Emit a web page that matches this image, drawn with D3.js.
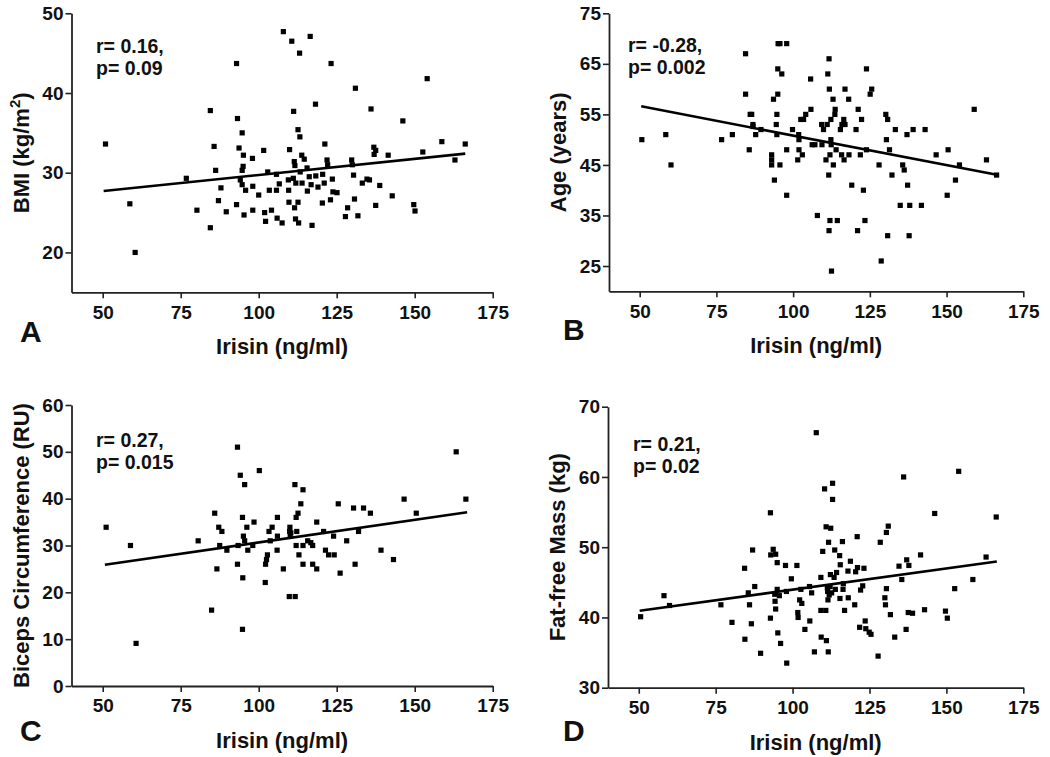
<!DOCTYPE html>
<html><head><meta charset="utf-8">
<script src="https://cdn.jsdelivr.net/npm/d3@7"></script>
<style>
body{margin:0;background:#fff;}
text{font-family:"Liberation Sans",Arial,sans-serif;font-weight:bold;fill:#111;}
</style></head>
<body><svg id="c" width="1050" height="757"></svg>
<script>
// ---------- data (Irisin ng/ml vs. outcome) ----------
const xTicks = [50, 75, 100, 125, 150, 175];
const xLabel = "Irisin (ng/ml)";

const bmiPoints = [[50.9,33.6],[58.7,26.1],[60.4,20.0],[76.8,29.3],[80.2,25.3],[84.5,37.8],[84.5,23.1],[85.7,33.3],[86.2,30.3],[87.1,26.5],[87.9,28.1],[89.6,25.1],[92.9,43.7],[93.2,36.8],[92.9,26.0],[93.7,33.1],[94.7,35.0],[95.1,32.2],[95.0,30.8],[94.7,30.3],[94.1,29.1],[94.7,28.5],[95.8,27.8],[95.3,24.7],[98.0,31.8],[98.1,28.3],[98.1,25.3],[100.0,27.2],[101.6,32.8],[101.9,25.0],[102.2,23.9],[102.9,30.1],[103.4,27.8],[104.1,25.3],[105.7,29.8],[105.7,27.8],[105.9,24.3],[106.6,28.6],[107.5,23.7],[107.9,47.7],[109.5,29.1],[109.6,27.8],[109.7,26.3],[109.9,32.9],[110.6,46.5],[111.2,37.7],[111.1,29.3],[111.4,31.4],[111.6,30.9],[111.5,25.6],[111.8,24.2],[111.9,28.7],[112.6,35.4],[112.6,26.3],[112.8,23.7],[113.1,45.0],[113.2,34.5],[113.3,30.1],[113.8,32.2],[113.9,28.7],[114.6,31.7],[115.5,30.6],[115.6,27.7],[116.5,47.1],[116.2,29.5],[116.8,28.5],[117.1,23.4],[118.2,38.6],[118.3,29.6],[119.0,28.2],[120.4,26.2],[120.5,29.8],[121.0,28.7],[121.2,33.6],[121.9,31.6],[122.1,31.0],[123.0,26.6],[123.2,43.7],[123.6,29.2],[123.8,27.6],[125.1,27.5],[127.8,24.5],[128.5,25.6],[129.8,31.6],[130.0,31.0],[130.4,29.7],[130.7,26.7],[131.0,40.6],[131.8,24.6],[133.2,28.7],[134.7,29.2],[135.5,29.1],[136.0,38.0],[136.9,33.2],[137.0,32.3],[137.5,32.8],[137.5,25.9],[138.8,28.4],[141.5,32.2],[142.8,27.1],[146.2,36.5],[149.7,26.0],[150.1,25.2],[152.6,32.6],[154.0,41.8],[158.7,33.9],[162.9,31.6],[166.2,33.6]];
const bmiFit = [[50.3,27.7],[166.2,32.4]];
const bmiTicks = [20, 30, 40, 50];

const agePoints = [[50.7,50],[58.5,51],[60.2,45],[76.7,50],[80.2,51],[84.5,67],[84.5,59],[85.7,48],[86.0,55],[86.5,55],[86.9,53],[86.9,52.6],[87.8,51],[89.5,52],[93.0,47],[93.0,46],[93.0,45],[93.6,58],[93.9,42],[94.5,53],[94.7,55],[94.7,51],[95.0,59],[95.0,64],[95.1,69],[95.7,69],[95.7,45],[96.3,63],[97.9,69],[97.9,48],[97.9,39],[99.8,52],[101.5,46],[101.8,51],[101.9,50],[101.9,48],[102.5,54],[103.0,47],[103.4,54],[104.1,55],[105.7,62],[105.8,56],[106.2,49],[107.1,49],[107.9,35],[109.3,53],[109.4,49],[109.9,52],[110.7,46],[111.1,53],[111.3,63],[111.6,43],[111.7,32],[111.7,66],[111.8,60],[112.0,47],[112.0,34],[112.3,50],[112.3,54],[112.4,49],[112.5,24],[113.0,58],[113.1,45],[113.6,55],[113.7,56],[114.0,48],[114.4,34],[115.4,52],[115.8,47],[115.9,53],[116.5,54],[116.6,46],[116.9,60],[116.9,53],[118.1,58],[118.2,47],[119.1,41],[120.5,52],[121.0,32],[121.2,56],[121.9,47],[122.3,54],[122.9,40],[123.4,34],[123.9,64],[123.9,48],[125.1,59],[125.6,60],[128.0,45],[128.7,26],[130.2,55],[130.4,50],[130.8,54],[130.8,31],[131.4,48],[132.2,43],[133.3,52],[134.9,37],[135.7,45],[136.2,44],[137.1,51],[137.3,41],[137.8,31],[138.0,37],[139.1,52],[141.8,37],[143.0,52],[146.6,47],[150.2,39],[150.5,48],[152.9,42],[154.2,45],[159.0,56],[163.0,46],[166.3,43]];
const ageFit = [[50.5,56.6],[166.8,43.0]];
const ageTicks = [25, 35, 45, 55, 65, 75];

const bicepsPoints = [[51.1,33.9],[58.9,30.0],[60.7,9.1],[80.6,31.0],[84.9,16.2],[85.9,36.9],[86.6,25.0],[87.2,33.9],[87.5,30.0],[88.2,33.0],[89.8,29.0],[93.2,51.0],[93.2,26.0],[94.1,45.0],[93.4,30.0],[94.8,36.0],[94.9,23.1],[94.8,12.1],[95.1,32.0],[95.5,31.0],[95.5,43.0],[96.2,33.9],[96.5,29.0],[98.1,30.0],[98.5,35.0],[100.2,46.0],[102.1,22.1],[102.2,26.0],[102.5,27.0],[102.8,28.0],[103.3,33.0],[104.3,33.9],[103.7,31.0],[105.9,29.0],[106.0,36.0],[106.0,32.0],[107.9,25.0],[109.8,19.1],[109.9,33.0],[110.0,33.9],[110.1,32.0],[110.3,32.7],[111.6,43.0],[111.7,19.1],[112.0,36.0],[112.0,30.0],[112.2,33.0],[112.6,36.9],[112.9,28.0],[113.5,38.9],[114.2,41.9],[114.2,30.0],[114.2,26.0],[115.7,31.0],[116.7,30.6],[117.3,30.0],[117.3,26.0],[118.6,35.0],[118.6,25.0],[120.8,33.0],[121.4,29.0],[122.4,28.0],[124.0,32.0],[124.2,28.0],[125.5,38.9],[126.1,24.1],[128.2,31.0],[130.4,38.0],[130.9,26.0],[132.0,33.0],[133.6,38.0],[135.8,36.9],[139.2,29.0],[143.2,27.0],[146.6,39.9],[150.5,36.9],[163.3,50.0],[166.4,39.9]];
const bicepsFit = [[50.7,25.9],[166.8,37.1]];
const bicepsTicks = [0, 10, 20, 30, 40, 50, 60];

const ffmPoints = [[50.6,40.1],[58.2,43.1],[60.0,41.7],[76.7,41.8],[80.3,39.3],[84.4,47.0],[84.5,36.9],[85.6,43.5],[86.0,41.8],[86.6,39.1],[87.0,49.6],[87.7,44.4],[89.6,34.9],[92.8,54.9],[92.8,39.9],[92.9,48.9],[93.7,49.7],[94.5,49.0],[94.2,43.3],[94.3,42.3],[94.5,41.2],[95.0,47.8],[95.0,44.0],[95.2,37.8],[95.7,43.1],[96.1,36.3],[97.7,47.4],[98.0,43.7],[98.1,33.5],[99.6,45.5],[101.4,47.4],[101.7,40.7],[101.8,40.0],[102.3,42.5],[103.0,42.0],[102.7,44.0],[104.0,38.3],[105.5,44.4],[105.6,39.5],[106.2,43.5],[107.1,35.1],[107.7,66.3],[109.2,45.7],[109.2,41.0],[109.3,37.2],[109.8,49.4],[110.4,58.3],[110.8,41.0],[110.9,52.9],[111.0,36.7],[111.3,44.2],[111.4,43.7],[111.5,42.5],[111.6,35.1],[111.7,50.7],[111.9,43.2],[112.2,44.4],[112.3,46.1],[112.4,52.7],[112.7,43.5],[113.0,59.1],[113.0,56.8],[113.5,45.7],[113.7,49.6],[113.9,44.0],[114.3,46.4],[115.3,48.8],[115.4,42.7],[115.5,47.5],[116.2,50.8],[116.4,44.0],[116.5,44.8],[116.9,41.0],[118.0,46.6],[118.1,42.8],[118.8,48.0],[120.2,41.8],[120.5,46.5],[121.0,51.5],[121.1,47.1],[121.8,38.6],[122.1,43.9],[122.8,44.5],[123.2,47.0],[123.6,39.5],[123.8,38.4],[124.9,37.9],[125.5,37.6],[127.8,34.5],[128.5,50.7],[130.0,42.8],[130.2,41.8],[130.5,52.1],[130.5,44.1],[131.1,53.0],[131.8,40.4],[133.2,37.2],[134.6,47.3],[135.5,45.4],[136.1,60.0],[136.9,38.3],[137.1,48.2],[137.6,40.7],[137.8,47.4],[139.0,40.6],[141.6,48.9],[142.9,41.1],[146.2,54.8],[149.7,40.9],[150.3,39.9],[152.7,44.1],[154.0,60.8],[158.6,45.4],[162.9,48.6],[166.2,54.3]];
const ffmFit = [[50.3,40.95],[166.4,47.97]];
const ffmTicks = [30, 40, 50, 60, 70];

const panelLetters = ["A", "B", "C", "D"];
const statR = ["r= 0.16,", "r= -0.28,", "r= 0.27,", "r= 0.21,"];
const statP = ["p= 0.09", "p= 0.002", "p= 0.015", "p= 0.02"];

// ---------- layout ----------
const panels = [
  {pts: bmiPoints, fit: bmiFit, yTicks: bmiTicks, yDom: [15, 50], yLab: "BMI", sup: true,
   L: 71.5, R: 492.7, T: 13.3, B: 292.3, letter: [20, 342], stat: [96, 53]},
  {pts: agePoints, fit: ageFit, yTicks: ageTicks, yDom: [20, 75], yLab: "Age (years)",
   L: 609, R: 1023.3, T: 13.3, B: 291.3, letter: [563, 340], stat: [628, 52]},
  {pts: bicepsPoints, fit: bicepsFit, yTicks: bicepsTicks, yDom: [0, 60], yLab: "Biceps Circumference (RU)",
   L: 71.5, R: 492.7, T: 405, B: 686, letter: [20, 741], stat: [96, 447]},
  {pts: ffmPoints, fit: ffmFit, yTicks: ffmTicks, yDom: [30, 70], yLab: "Fat-free Mass (kg)",
   L: 608, R: 1023.3, T: 406.7, B: 687.7, letter: [563, 741], stat: [633, 451]}
];

const svg = d3.select("#c");

panels.forEach((p, i) => {
  const x = d3.scaleLinear().domain([40, 175]).range([p.L, p.R]);
  const y = d3.scaleLinear().domain(p.yDom).range([p.B, p.T]);
  const g = svg.append("g");

  // axes
  const xa = g.append("g").attr("transform", `translate(0,${p.B})`)
    .call(d3.axisBottom(x).tickValues(xTicks).tickSize(6).tickPadding(7).tickSizeOuter(0));
  const ya = g.append("g").attr("transform", `translate(${p.L},0)`)
    .call(d3.axisLeft(y).tickValues(p.yTicks).tickSize(6).tickPadding(2).tickSizeOuter(0));
  [xa, ya].forEach(a => {
    a.select(".domain").attr("stroke", "#222").attr("stroke-width", 1.8);
    a.selectAll(".tick line").attr("stroke", "#222").attr("stroke-width", 1.6);
    a.selectAll(".tick text").attr("fill", "#111").style("font-size", "19px")
      .style("font-weight", "bold").style("font-family", '"Liberation Sans",Arial,sans-serif');
  });

  // points
  g.append("g").selectAll("rect").data(p.pts).join("rect")
    .attr("x", d => x(d[0]) - 2.6).attr("y", d => y(d[1]) - 2.6)
    .attr("width", 5.2).attr("height", 5.2).attr("fill", "#000");

  // regression line
  g.append("path").datum(p.fit)
    .attr("d", d3.line().x(d => x(d[0])).y(d => y(d[1])))
    .attr("stroke", "#000").attr("stroke-width", 2.6).attr("fill", "none");

  // x label
  g.append("text").attr("x", (p.L + p.R) / 2).attr("y", p.B + 62)
    .attr("text-anchor", "middle").style("font-size", "22px").text(xLabel);

  // y label
  const yl = g.append("text")
    .attr("transform", `translate(${p.L - 43},${(p.T + p.B) / 2}) rotate(-90)`)
    .attr("text-anchor", "middle").style("font-size", "22px");
  if (p.sup) {
    yl.append("tspan").text("BMI (kg/m");
    yl.append("tspan").attr("dy", -9).style("font-size", "15px").text("2");
    yl.append("tspan").attr("dy", 9).text(")");
  } else {
    yl.text(p.yLab);
  }

  // stats
  g.append("text").attr("x", p.stat[0]).attr("y", p.stat[1]).style("font-size", "19.5px").text(statR[i]);
  g.append("text").attr("x", p.stat[0]).attr("y", p.stat[1] + 22).style("font-size", "19.5px").text(statP[i]);

  // panel letter
  g.append("text").attr("x", p.letter[0]).attr("y", p.letter[1]).style("font-size", "30px").text(panelLetters[i]);
});
</script></body></html>
